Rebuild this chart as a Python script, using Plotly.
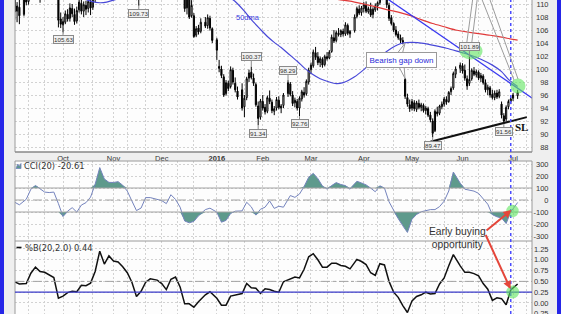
import pandas as pd
import plotly.graph_objects as go

W, H = 561, 314
FONT = "Liberation Sans, Arial, sans-serif"

# ---------------- data ----------------
holidays = ["2015-09-07", "2015-11-26", "2015-12-25", "2016-01-01", "2016-01-18",
            "2016-02-15", "2016-03-25", "2016-05-30", "2016-07-04"]
dates = [d for d in pd.bdate_range("2015-09-02", "2016-07-05")
         if d.strftime("%Y-%m-%d") not in holidays]

open_ = [
    # Sep
    111.6, 108.9, 109.5, 108.4, 111.1, 110.4, 111.6, 112.2, 112.8, 113.4, 112.5, 111.5, 112.3, 112.9, 113.6, 113.0, 112.5, 111.7, 111.0, 107.7,
    # Oct
    106.8, 107.2, 108.4, 107.8, 109.3, 108.4, 107.4, 109.1, 110.1, 108.9, 109.8, 109.3, 110.3, 109.5, 110.7, 111.7, 112.8, 113.4, 113.1, 114.0, 114.6, 113.9,
    # Nov
    114.4, 115.1, 115.6, 114.8, 113.8, 113.1, 112.5, 113.1, 112.2, 111.6, 111.1, 111.6, 110.9, 111.9, 112.4, 112.8, 113.2, 113.6, 113.2, 113.4,
    # Dec
    112.8, 113.4, 112.5, 112.0, 112.9, 113.1, 112.4, 112.0, 112.5, 111.6, 111.8, 109.4, 110.9, 108.2, 108.2, 105.2, 106.3, 105.8, 107.2, 106.7, 107.8, 106.2,
    # Jan
    104.5, 100.4, 100.0, 98.8, 96.2, 97.8, 97.3, 99.8, 97.8, 96.6, 96.8, 94.2, 95.6, 98.6, 99.5, 98.6, 97.6, 94.3, 92.6,
    # Feb
    95.0, 94.1, 93.5, 95.5, 94.9, 93.5, 94.0, 95.2, 94.0, 94.4, 96.2, 97.7, 96.0, 94.8, 95.0, 94.0, 95.4, 96.4, 96.2, 98.0,
    # Mar
    99.9, 100.5, 102.5, 101.9, 101.0, 101.5, 100.7, 101.9, 101.7, 102.7, 104.8, 104.4, 105.5, 105.3, 105.8, 105.4, 106.7, 105.4, 105.9, 108.1, 109.2, 108.7,
    # Apr
    109.3, 109.8, 108.8, 109.2, 108.4, 109.1, 109.7, 110.2, 111.0, 111.8, 111.2, 109.8, 107.9, 107.0, 106.0, 105.4, 104.8, 104.4, 98.4, 95.6, 94.5,
    # May
    94.0, 94.8, 93.8, 94.7, 94.1, 94.4, 93.6, 93.9, 92.9, 92.0, 90.5, 93.4, 93.2, 94.2, 94.6, 95.3, 95.0, 96.5, 97.1, 99.2, 100.1,
    # Jun
    100.5, 99.8, 98.5, 97.8, 98.5, 99.7, 99.1, 99.5, 98.6, 98.9, 97.9, 96.8, 97.1, 96.1, 95.6, 96.3, 95.8, 94.6, 92.8, 92.3, 94.2, 95.0,
    # Jul
    95.5, 95.9]

high = [
    112.2, 110.3, 110.9, 111.3, 111.9, 112.0, 112.6, 113.2, 113.9, 114.0, 112.9, 112.7, 113.4, 114.1, 114.0, 113.5, 113.0, 112.1, 111.4, 108.7,
    108.0, 109.0, 109.2, 110.1, 110.0, 109.3, 109.6, 111.0, 110.7, 110.4, 110.5, 111.0, 110.9, 111.3, 112.0, 113.0, 113.8, 114.1, 114.3, 115.1, 115.0, 114.8,
    115.6, 116.0, 115.9, 115.2, 114.2, 113.5, 113.6, 113.4, 112.6, 112.0, 112.0, 111.9, 112.2, 112.8, 113.1, 113.7, 113.9, 114.0, 113.8, 113.7,
    113.9, 113.8, 112.9, 113.3, 113.6, 113.4, 112.8, 112.9, 112.7, 112.4, 112.2, 111.6, 111.1, 110.6, 108.6, 106.6, 106.8, 107.8, 108.0, 108.4, 108.2, 106.4,
    104.8, 101.4, 100.5, 99.2, 98.3, 98.2, 100.4, 100.2, 98.7, 97.3, 97.8, 96.0, 98.8, 99.9, 100.37, 99.3, 97.9, 95.0, 95.4,
    96.0, 94.6, 95.9, 96.7, 95.3, 94.3, 95.7, 95.8, 94.6, 96.3, 98.29, 98.0, 96.6, 95.6, 95.4, 95.8, 96.8, 97.2, 98.4, 100.2,
    101.0, 103.0, 103.4, 102.6, 101.9, 101.8, 102.2, 102.6, 102.9, 105.3, 106.0, 105.9, 106.3, 106.1, 106.2, 107.2, 107.0, 106.0, 108.4, 109.6, 109.8, 109.7,
    110.3, 110.4, 109.6, 110.2, 109.5, 110.1, 110.4, 111.4, 112.2, 112.4, 111.6, 110.2, 108.3, 107.2, 106.6, 105.8, 105.3, 104.9, 98.6, 96.2, 95.3,
    95.4, 95.2, 95.1, 95.3, 94.8, 94.7, 94.3, 94.2, 93.4, 92.4, 93.8, 94.2, 94.5, 95.0, 95.7, 95.8, 96.6, 97.3, 99.6, 100.4, 101.0,
    100.9, 100.7, 99.0, 101.89, 100.1, 100.3, 99.9, 99.8, 99.4, 99.2, 98.4, 97.6, 97.4, 96.8, 96.7, 96.8, 96.9, 95.0, 93.2, 94.4, 95.3, 95.8,
    96.3, 96.8]

low = [
    107.6, 107.2, 106.9, 108.1, 109.8, 109.9, 110.9, 111.5, 112.1, 112.3, 110.2, 111.0, 111.9, 112.3, 112.6, 111.9, 111.3, 110.8, 106.4, 106.3,
    105.63, 106.9, 107.3, 107.3, 108.0, 106.8, 107.0, 108.7, 108.4, 108.0, 108.3, 108.7, 108.3, 109.1, 110.3, 111.3, 112.2, 112.8, 112.7, 113.6, 113.4, 113.3,
    114.0, 114.5, 114.3, 113.5, 112.7, 112.0, 112.1, 111.9, 111.2, 110.7, 110.6, 109.73, 110.6, 111.4, 111.9, 112.3, 112.6, 112.9, 112.8, 112.4,
    112.5, 112.2, 111.4, 111.7, 112.4, 112.0, 111.5, 111.6, 111.3, 110.9, 108.8, 108.4, 107.7, 107.9, 104.8, 104.9, 105.3, 105.5, 106.3, 106.2, 105.9, 104.0,
    101.4, 99.5, 98.6, 95.7, 95.9, 96.6, 97.0, 97.6, 96.4, 95.3, 93.6, 92.6, 95.2, 98.0, 98.4, 97.4, 94.2, 91.34, 92.2,
    93.6, 93.0, 93.2, 94.6, 93.2, 92.9, 93.6, 93.8, 93.2, 94.0, 95.7, 95.8, 94.3, 94.1, 93.6, 92.76, 95.0, 95.6, 95.9, 97.6,
    99.2, 100.2, 101.4, 100.6, 100.3, 100.2, 100.4, 101.3, 101.5, 102.5, 104.0, 104.1, 105.0, 104.9, 105.0, 105.1, 105.2, 104.8, 105.6, 107.8, 108.3, 108.2,
    108.7, 108.6, 108.5, 108.0, 107.8, 108.8, 109.0, 109.9, 110.6, 110.9, 109.4, 107.4, 106.7, 105.7, 105.0, 104.5, 104.0, 103.8, 95.4, 94.2, 93.4,
    93.6, 93.5, 93.4, 93.8, 93.5, 93.3, 93.0, 92.6, 91.8, 89.47, 90.3, 92.7, 92.9, 93.8, 94.2, 94.5, 94.8, 96.0, 96.8, 98.6, 99.4,
    99.3, 98.2, 96.8, 97.4, 98.2, 98.9, 98.7, 98.3, 98.0, 97.6, 96.4, 96.0, 95.6, 95.3, 95.2, 95.4, 95.5, 92.4, 91.56, 92.0, 93.8, 94.6,
    95.1, 95.4]

close = [
    108.8, 109.7, 108.2, 111.0, 110.3, 111.6, 112.3, 112.8, 113.5, 112.6, 111.4, 112.2, 113.0, 113.7, 113.1, 112.4, 111.8, 111.1, 107.5, 106.9,
    107.3, 108.5, 107.7, 109.4, 108.5, 107.3, 109.0, 110.3, 108.9, 109.9, 109.2, 110.4, 109.4, 110.6, 111.6, 112.7, 113.5, 113.2, 114.0, 114.7, 113.9, 114.4,
    115.2, 115.7, 114.8, 113.9, 113.2, 112.5, 113.1, 112.3, 111.7, 111.1, 111.7, 110.9, 111.9, 112.4, 112.8, 113.3, 113.6, 113.2, 113.5, 112.8,
    113.4, 112.6, 111.9, 113.0, 113.2, 112.5, 111.9, 112.6, 111.7, 112.0, 109.3, 111.0, 108.0, 109.8, 105.0, 106.2, 105.7, 107.2, 106.6, 107.9, 106.3, 104.4,
    102.9, 100.1, 99.0, 96.0, 97.9, 97.0, 99.9, 98.0, 96.8, 95.7, 94.0, 95.5, 98.5, 99.4, 98.7, 97.8, 94.5, 92.4, 95.1,
    94.0, 93.4, 95.6, 95.0, 93.6, 93.9, 95.3, 94.1, 94.3, 96.0, 97.9, 96.1, 94.7, 95.2, 94.0, 95.5, 96.5, 96.0, 98.1, 99.8,
    100.6, 102.6, 101.8, 101.0, 101.6, 100.6, 101.9, 101.6, 102.6, 104.9, 104.3, 105.6, 105.3, 105.9, 105.4, 106.8, 105.5, 105.8, 108.0, 109.3, 108.6, 109.4,
    109.9, 108.9, 109.3, 108.3, 109.2, 109.7, 110.2, 111.0, 111.8, 111.3, 109.9, 107.8, 107.0, 106.0, 105.3, 104.8, 104.4, 104.1, 95.8, 94.6, 93.9,
    95.0, 93.9, 94.8, 94.1, 94.5, 93.6, 94.0, 92.9, 92.2, 90.1, 93.5, 93.1, 94.3, 94.6, 95.4, 94.9, 96.4, 97.0, 99.3, 100.0, 100.6,
    99.7, 98.6, 97.4, 98.4, 99.8, 99.2, 99.6, 98.6, 99.0, 97.9, 96.8, 97.2, 96.0, 95.6, 96.3, 95.7, 96.5, 92.9, 92.0, 94.1, 95.0, 95.4,
    96.0, 96.4]

ma50_dates = ["2015-09-14", "2015-10-01", "2015-10-14", "2015-10-19", "2015-10-23", "2015-10-28",
              "2015-11-02", "2015-11-09", "2015-11-18", "2015-12-01", "2015-12-14", "2015-12-21",
              "2016-01-04", "2016-01-11", "2016-01-14", "2016-01-20", "2016-01-25", "2016-01-29",
              "2016-02-03", "2016-02-08", "2016-02-11", "2016-02-17", "2016-02-22", "2016-02-26",
              "2016-03-02", "2016-03-07", "2016-03-11", "2016-03-16", "2016-03-21", "2016-03-28",
              "2016-04-01", "2016-04-06", "2016-04-13", "2016-04-19", "2016-04-26", "2016-05-02",
              "2016-05-09", "2016-05-16", "2016-05-23", "2016-05-31", "2016-06-06", "2016-06-13",
              "2016-06-20", "2016-06-24", "2016-06-29", "2016-07-05"]
ma50 = [111.5, 111.2, 110.8, 110.45, 110.2, 110.3, 110.6, 111.1, 111.8, 112.3, 112.6, 112.6,
        112.0, 111.1, 110.4, 108.9, 107.6, 106.1, 105.0, 104.1, 103.3, 102.1, 101.2, 99.9,
        99.1, 98.5, 98.0, 97.75, 97.9, 98.8, 99.9, 100.9, 102.2, 103.2, 104.0, 104.1,
        103.95, 103.6, 103.2, 102.6, 102.2, 101.5, 100.6, 99.6, 98.4, 97.3]

ma200_dates = ["2016-03-01", "2016-03-16", "2016-03-24", "2016-04-01", "2016-04-08", "2016-04-15",
               "2016-04-22", "2016-04-29", "2016-05-06", "2016-05-13", "2016-05-20", "2016-05-27",
               "2016-06-03", "2016-06-10", "2016-06-17", "2016-06-24", "2016-07-01", "2016-07-05"]
ma200 = [111.8, 110.75, 110.45, 110.0, 109.6, 109.15, 108.75, 108.25, 107.6, 107.0, 106.5, 106.0,
         105.7, 105.45, 105.2, 104.9, 104.55, 104.45]

# indicators read every second trading day
ind_dates = dates[::2]
cci = [-19, -40, 6, 90, 121, 90, 66, 62, 66, -30,
       -138, -93, -64, -101, -42, -22, 24, 131, 270, 175,
       147, 146, 153, 123, 74, -8, -88, -67, 20, 20,
       8, -5, -30, 44, 5, -60, -175, -190, -178, -132,
       -80, -68, -101, -185, -170, -112, -93, -91, -19, -57,
       -126, -77, -60, -8, -70, -52, -60, 37, 22, 50,
       112, 190, 222, 178, 116, 91, 120, 145, 129, 120,
       90, 156, 142, 126, 99, 69, 118, 100, -15, -92,
       -155, -215, -270, -160, -120, -98, -90, -80, -80, -55,
       -10, 75, 233, 140, 90, 82, 74, 55, 8, -35,
       -122, -140, -150, -196, -100, -20.61]
pctb = [.49, .44, .45, .69, .83, .73, .71, .65, .59, .11,
        .16, .24, .27, .26, .41, .40, .46, .73, 1.20, .90,
        1.09, .97, .95, .84, .70, .48, .15, .27, .48, .56,
        .53, .45, .31, .55, .60, .37, -.02, -.02, -.10, .03,
        .19, .26, .11, -.05, -.05, .16, .18, .22, .45, .35,
        .34, .22, .33, .31, .27, .25, .49, .55, .60, .58,
        .78, 1.07, 1.14, 1.00, .83, .83, .92, .92, .87, .85,
        .79, 1.01, .96, .89, .70, .64, .91, .88, .50, .25,
        .13, -.06, -.22, .05, .15, .19, .25, .21, .22, .44,
        .58, .86, 1.12, .86, .71, .71, .68, .63, .45, .32,
        .06, .12, .10, -.04, .30, .44]

price_labels = [("2015-10-01", 105.63, 7), ("2015-11-17", 109.73, 8), ("2016-01-25", 100.37, -10),
                ("2016-01-28", 91.34, 8), ("2016-02-16", 98.29, -10), ("2016-02-23", 92.76, 7),
                ("2016-05-13", 89.47, 8), ("2016-06-06", 101.89, -10), ("2016-06-27", 91.56, 8)]

resist_line = (["2016-04-14", "2016-07-14"], [111.1, 95.35])
support_line = (["2016-05-12", "2016-07-11"], [88.8, 92.6])

month_ticks = ["2015-10-01", "2015-11-02", "2015-12-01", "2016-01-04", "2016-02-01",
               "2016-03-01", "2016-04-01", "2016-05-02", "2016-06-01", "2016-07-01"]
month_labels = ["Oct", "Nov", "Dec", "<b>2016</b>", "Feb", "Mar", "Apr", "May", "Jun", "Jul"]
minor_ticks = ["2015-09-10", "2015-09-21", "2015-10-12", "2015-10-20", "2015-11-10", "2015-11-20",
               "2015-12-10", "2015-12-21", "2016-01-11", "2016-01-20", "2016-02-10", "2016-02-22",
               "2016-03-10", "2016-03-21", "2016-04-11", "2016-04-20", "2016-05-10", "2016-05-20",
               "2016-06-10", "2016-06-20", "2016-07-11"]

assert len(open_) == len(high) == len(low) == len(close) == len(dates)
assert len(cci) == len(pctb) == len(ind_dates)


def mid(d):
    """centre of a trading-day slot"""
    return pd.Timestamp(d) + pd.Timedelta(hours=12)


def px(x):
    return x / W


def py(y):
    return 1 - y / H


X = [mid(d) for d in dates]
XI = [mid(d) for d in ind_dates]

fig = go.Figure()

# ---------------- price panel ----------------
fig.add_trace(go.Candlestick(
    x=X, open=open_, high=high, low=low, close=close, whiskerwidth=0,
    increasing=dict(line=dict(color="#000000", width=1), fillcolor="#ffffff"),
    decreasing=dict(line=dict(color="#000000", width=1), fillcolor="#000000"),
    xaxis="x", yaxis="y", hoverinfo="skip"))
fig.add_trace(go.Scatter(x=[mid(d) for d in ma200_dates], y=ma200, mode="lines",
                         line=dict(color="#e03a3a", width=1.2, shape="spline", smoothing=0.6),
                         xaxis="x", yaxis="y", hoverinfo="skip"))
fig.add_trace(go.Scatter(x=[mid(d) for d in ma50_dates], y=ma50, mode="lines",
                         line=dict(color="#4848d8", width=1.2, shape="spline", smoothing=0.6),
                         xaxis="x", yaxis="y", hoverinfo="skip"))
fig.add_trace(go.Scatter(x=[mid(d) for d in resist_line[0]], y=resist_line[1], mode="lines",
                         line=dict(color="#3a3af0", width=1.3), xaxis="x", yaxis="y", hoverinfo="skip"))
fig.add_trace(go.Scatter(x=[mid(d) for d in support_line[0]], y=support_line[1], mode="lines",
                         line=dict(color="#111111", width=2), xaxis="x", yaxis="y", hoverinfo="skip"))

# ---------------- CCI panel ----------------
TEAL = "#5e9a8c"
fig.add_trace(go.Scatter(x=XI, y=[100] * len(cci), mode="lines", line=dict(width=0),
                         xaxis="x2", yaxis="y2", hoverinfo="skip"))
fig.add_trace(go.Scatter(x=XI, y=[max(v, 100) for v in cci], mode="lines", line=dict(width=0),
                         fill="tonexty", fillcolor=TEAL, xaxis="x2", yaxis="y2", hoverinfo="skip"))
fig.add_trace(go.Scatter(x=XI, y=[-100] * len(cci), mode="lines", line=dict(width=0),
                         xaxis="x2", yaxis="y2", hoverinfo="skip"))
fig.add_trace(go.Scatter(x=XI, y=[min(v, -100) for v in cci], mode="lines", line=dict(width=0),
                         fill="tonexty", fillcolor=TEAL, xaxis="x2", yaxis="y2", hoverinfo="skip"))
fig.add_trace(go.Scatter(x=XI, y=cci, mode="lines", line=dict(color="#7483bd", width=1),
                         xaxis="x2", yaxis="y2", hoverinfo="skip"))

# ---------------- %B panel ----------------
fig.add_trace(go.Scatter(x=XI, y=pctb, mode="lines", line=dict(color="#111111", width=1.5),
                         xaxis="x3", yaxis="y3", hoverinfo="skip"))

# ---------------- axes ----------------
GRID = "#d2d2d2"
x_range = [pd.Timestamp("2015-09-02 14:10"), pd.Timestamp("2016-07-13 18:14")]
xcommon = dict(range=x_range, rangebreaks=[dict(bounds=["sat", "mon"])],
               domain=[px(15), px(532)], tickvals=[mid(d) for d in month_ticks],
               ticktext=month_labels, ticks="", showline=False, zeroline=False,
               showgrid=True, gridcolor=GRID, griddash="2px,2px", gridwidth=1,
               minor=dict(tickvals=[mid(d) for d in minor_ticks], showgrid=True,
                          gridcolor=GRID, griddash="2px,2px", gridwidth=1, ticks=""))
ycommon = dict(anchor="free", position=px(548.5), side="left", ticks="", showline=False,
               zeroline=False, showgrid=True, gridcolor=GRID, griddash="2px,2px",
               gridwidth=1, automargin=False, ticklabeloverflow="allow",
               tickfont=dict(size=7.5, family=FONT, color="#333333"))

fig.update_layout(
    width=W, height=H, margin=dict(l=0, r=0, t=0, b=0),
    paper_bgcolor="#efefef", plot_bgcolor="#fdfdfd",
    showlegend=False, hovermode=False,
    xaxis=dict(**xcommon, anchor="y", showticklabels=True, automargin=False,
               tickfont=dict(size=7.5, family=FONT, color="#333333"),
               rangeslider=dict(visible=False)),
    xaxis2=dict(**xcommon, anchor="y2", matches="x", showticklabels=False),
    xaxis3=dict(**xcommon, anchor="y3", matches="x", showticklabels=False),
    yaxis=dict(**ycommon, domain=[py(152), 1], range=[87.23, 110.62],
               tickvals=list(range(88, 111, 2))),
    yaxis2=dict(**ycommon, domain=[py(241), py(161)], range=[-341.7, 325],
                tickvals=[-300, -200, -100, 0, 100, 200, 300],
                ticktext=["-300", "-200", "-100", "0", "100", "200", "300"]),
    yaxis3=dict(**ycommon, domain=[0, py(241)], range=[-0.255, 1.435],
                tickvals=[-0.25, 0, 0.25, 0.5, 0.75, 1.0, 1.25],
                ticktext=["-0.25", "0.00", "0.25", "0.50", "0.75", "1.00", "1.25"]),
)

# ---------------- shapes ----------------
shapes = []
BORDER = "#9a9a9a"


def pline(x0, y0, x1, y1, color, width=1, dash=None):
    d = dict(type="line", xref="paper", yref="paper", x0=px(x0), y0=py(y0), x1=px(x1), y1=py(y1),
             line=dict(color=color, width=width), layer="above")
    if dash:
        d["line"]["dash"] = dash
    return d


# panel frames
shapes += [pline(15, 0, 15, 152, BORDER), pline(532, 0, 532, 152, BORDER),
           pline(15, 152, 532, 152, "#888888", 1.5),
           pline(15, 161, 532, 161, BORDER), pline(15, 241, 532, 241, BORDER),
           pline(15, 161, 15, 314, BORDER), pline(532, 161, 532, 314, BORDER)]

# CCI reference lines
for v in (100, -100):
    shapes.append(dict(type="line", xref="x2 domain", yref="y2", x0=0, x1=1, y0=v, y1=v,
                       line=dict(color="#a2a2a2", width=1)))
shapes.append(dict(type="line", xref="x2 domain", yref="y2", x0=0, x1=1, y0=0, y1=0,
                   line=dict(color="#a2a2a2", width=1, dash="dashdot")))
# %B reference lines
shapes.append(dict(type="line", xref="x3 domain", yref="y3", x0=0, x1=1, y0=0.25, y1=0.25,
                   line=dict(color="#3a3ac8", width=1.2)))
shapes.append(dict(type="line", xref="x3 domain", yref="y3", x0=0, x1=1, y0=0.5, y1=0.5,
                   line=dict(color="#a2a2a2", width=1, dash="dashdot")))

# dotted signal line
shapes.append(dict(type="line", xref="x", yref="paper", x0=mid("2016-06-30"), x1=mid("2016-06-30"),
                   y0=0, y1=1, line=dict(color="#4b4bff", width=1.5, dash="dot"), layer="above"))


# callout wedge for "Bearish gap down"
def tri(pts):
    path = "M " + " L ".join(f"{px(a)},{py(b)}" for a, b in pts) + " Z"
    return dict(type="path", xref="paper", yref="paper", path=path, fillcolor="#ffffff",
                line=dict(color="#9a9a9a", width=1), layer="above")


shapes.append(tri([(396, 55), (402, 55), (405, 43.3)]))
shapes.append(tri([(398, 65), (404, 65), (405, 78.3)]))

# grey pointer lines from the cropped call-out
shapes += [pline(466.7, 43.3, 473, -3, "#9c9c9c"), pline(471.7, 43.3, 477.5, -3, "#9c9c9c"),
           pline(514, 80, 481, -3, "#9c9c9c"), pline(518, 79, 489, -3, "#9c9c9c")]


# green highlight circles
def circ(cx, cy, rx, ry):
    return dict(type="circle", xref="paper", yref="paper", x0=px(cx - rx), x1=px(cx + rx),
                y0=py(cy + ry), y1=py(cy - ry), fillcolor="rgba(95,230,95,0.6)",
                line=dict(width=0), layer="above")


shapes += [circ(471, 51, 11.5, 8.5), circ(518, 86, 7.5, 7.5),
           circ(512.5, 211, 6.2, 6.2), circ(512.7, 292, 6.5, 6.5)]

# legend icons
shapes.append(dict(type="path", xref="paper", yref="paper",
                   path=f"M {px(16)},{py(168.5)} L {px(17.8)},{py(164)} L {px(19.3)},{py(166.3)} "
                        f"L {px(21)},{py(163.5)} L {px(21)},{py(168.5)} Z",
                   fillcolor=TEAL, line=dict(color="#7483bd", width=0.8), layer="above"))
shapes.append(pline(16.5, 247.5, 21.5, 247.5, "#111111", 1.6))

# outer blue frame strips
shapes.append(dict(type="rect", xref="paper", yref="paper", x0=0, x1=px(4), y0=0, y1=1,
                   fillcolor="#2626e8", line=dict(width=0), layer="above"))
shapes.append(dict(type="rect", xref="paper", yref="paper", x0=px(557), x1=1, y0=0, y1=1,
                   fillcolor="#2626e8", line=dict(width=0), layer="above"))

fig.update_layout(shapes=shapes)

# ---------------- annotations ----------------
ann = []
for d, v, dy in price_labels:
    ann.append(dict(x=mid(d), y=v, xref="x", yref="y", text=f"{v:.2f}", showarrow=True,
                    arrowhead=0, arrowwidth=1, arrowcolor="#8a8a8a", ax=0, ay=dy,
                    font=dict(size=6.2, family=FONT, color="#333333"), bgcolor="#f1f1f1",
                    bordercolor="#8a8a8a", borderwidth=1, borderpad=0))


def ptext(x, y, text, **kw):
    d = dict(x=px(x), y=py(y), xref="paper", yref="paper", text=text, showarrow=False,
             xanchor="center", yanchor="middle")
    d.update(kw)
    return d


ann.append(ptext(248, 18, "50dma", font=dict(size=7.5, family=FONT, color="#3a3ae0")))
ann.append(ptext(401, 60, "Bearish gap down", font=dict(size=8, family=FONT, color="#2a2ad8"),
                 bgcolor="#ffffff", bordercolor="#9a9a9a", borderwidth=1, borderpad=2.5))
ann.append(ptext(521, 127, "<b>SL</b>",
                 font=dict(size=11, family="Liberation Serif, serif", color="#111111")))
ann.append(ptext(457, 237.5, "Early buying<br>opportunity", align="center",
                 font=dict(size=10.3, family=FONT, color="#333333")))
ann.append(dict(x=px(511.5), y=py(210), xref="paper", yref="paper", text="", showarrow=True,
                ax=-26.5, ay=21.7, arrowhead=2, arrowsize=0.8, arrowwidth=2, arrowcolor="#e4463a"))
ann.append(dict(x=px(510.5), y=py(289), xref="paper", yref="paper", text="", showarrow=True,
                ax=-25.5, ay=-55.5, arrowhead=2, arrowsize=0.8, arrowwidth=2, arrowcolor="#e4463a"))
ann.append(ptext(22, 165.8, "CCI(20) -20.61", xanchor="left",
                 font=dict(size=8.3, family="DejaVu Sans, Verdana, sans-serif", color="#333333")))
ann.append(ptext(22.5, 247.5, "%B(20,2.0) 0.44", xanchor="left",
                 font=dict(size=8.3, family="DejaVu Sans, Verdana, sans-serif", color="#333333")))
fig.update_layout(annotations=ann)

fig.write_html("out.html")
